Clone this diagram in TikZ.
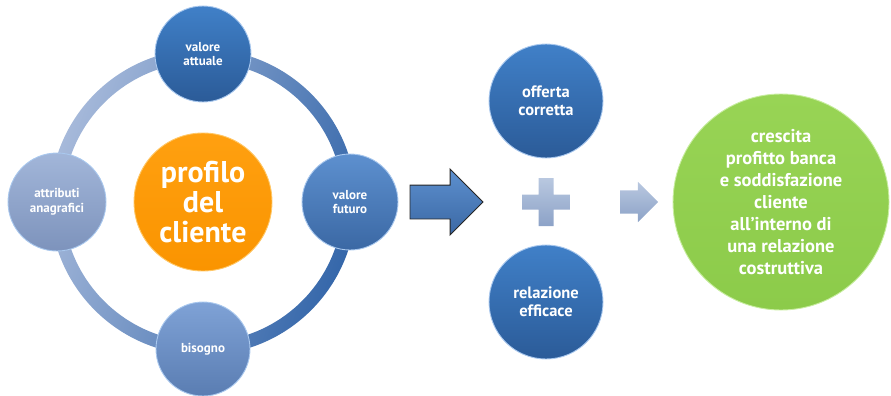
\documentclass[tikz,border=0pt]{standalone}
\usepackage{fontspec}
\setmainfont{PT Sans}
\usepackage{xcolor}
\usepackage{tikz}
\usetikzlibrary{positioning,shapes.arrows}

\definecolor{ringlight}{HTML}{A6B9DA}
\definecolor{ringdark}{HTML}{3567AA}
\definecolor{deeptop}{HTML}{4080C8}
\definecolor{deepbot}{HTML}{2B5B98}
\definecolor{midtop}{HTML}{5D90CF}
\definecolor{midbot}{HTML}{3B68A4}
\definecolor{softtop}{HTML}{7FA2D6}
\definecolor{softbot}{HTML}{5A7DB2}
\definecolor{greytop}{HTML}{A2B6D9}
\definecolor{greybot}{HTML}{7D93BC}
\definecolor{edgeblue}{HTML}{A9C8EE}
\definecolor{orangetop}{HTML}{FFA010}
\definecolor{orangebot}{HTML}{FA9400}
\definecolor{orangeedge}{HTML}{FFC766}
\definecolor{greentop}{HTML}{98D455}
\definecolor{greenbot}{HTML}{8CCB4A}
\definecolor{greenedge}{HTML}{C8EDA0}
\definecolor{pluslight}{HTML}{B9C8E0}
\definecolor{plusdark}{HTML}{8CA2C7}

\begin{document}
\begin{tikzpicture}[
  ball/.style={circle, inner sep=0pt, outer sep=0pt, align=center, text=white,
    line width=0.9pt, font=\bfseries\fontsize{13}{14.5}\selectfont},
  blueball/.style={ball, minimum size=96pt, draw=edgeblue},
  bigarrow/.style={single arrow, single arrow head extend=16pt, inner xsep=0pt,
    inner ysep=16.5pt, minimum height=73pt, outer sep=0pt},
  smallarrow/.style={single arrow, single arrow head extend=8.5pt, inner xsep=0pt,
    inner ysep=11.5pt, minimum height=38pt, outer sep=0pt}
]
\useasboundingbox (0,0) rectangle (891pt,-396pt);

% ring %
\coordinate (hub) at (203pt,-202pt);
\shade[even odd rule, top color=ringlight, bottom color=ringdark, shading angle=70]
  (hub) circle (153pt) (hub) circle (140pt);

% nodes %
\node[ball, minimum size=138pt, top color=orangetop, bottom color=orangebot,
  draw=orangeedge, font=\bfseries\fontsize{30}{30}\selectfont] (profilo) at (hub) {profilo\\del\\cliente};
\node[blueball, above = 31pt of profilo, top color=deeptop, bottom color=deepbot] (attuale) {valore\\attuale};
\node[blueball, right = 30pt of profilo, top color=midtop, bottom color=midbot] (futuro) {valore\\futuro};
\node[blueball, below = 31pt of profilo, minimum size=94pt, top color=softtop, bottom color=softbot] (bisogno) {bisogno};
\node[blueball, left = 28pt of profilo, minimum size=98pt, top color=greytop, bottom color=greybot] (attributi) {attributi\\anagrafici};

\node[bigarrow, right = 12pt of futuro, top color=midtop, bottom color=midbot,
  draw=black!85, line width=0.9pt] (freccia) {};
\coordinate[right = 63pt of freccia] (piu);

\node[blueball, above = 44pt of piu, minimum size=114pt, top color=deeptop, bottom color=deepbot,
  font=\bfseries\fontsize{16.5}{18}\selectfont] (offerta) {offerta\\corretta};
\node[blueball, below = 43pt of piu, minimum size=114pt, top color=deeptop, bottom color=deepbot,
  font=\bfseries\fontsize{16.5}{18}\selectfont] (relazione) {relazione\\efficace};

\node[smallarrow, right = 74pt of piu, top color=pluslight, bottom color=plusdark] (freccina) {};
\node[ball, right = 15pt of freccina, minimum size=216pt, top color=greentop, bottom color=greenbot,
  draw=greenedge, font=\bfseries\fontsize{18.5}{22}\selectfont] (crescita)
  {crescita\\profitto banca\\e soddisfazione\\cliente\\all'interno di\\una relazione\\costruttiva};

% plus sign %
\begin{scope}[shift={(piu)}]
\shade[top color=pluslight, bottom color=plusdark]
  (-7.5pt,24pt) -- (7.5pt,24pt) -- (7.5pt,7.5pt) -- (24pt,7.5pt) -- (24pt,-7.5pt)
  -- (7.5pt,-7.5pt) -- (7.5pt,-24pt) -- (-7.5pt,-24pt) -- (-7.5pt,-7.5pt)
  -- (-24pt,-7.5pt) -- (-24pt,7.5pt) -- (-7.5pt,7.5pt) -- cycle;
\end{scope}

\end{tikzpicture}
\end{document}
